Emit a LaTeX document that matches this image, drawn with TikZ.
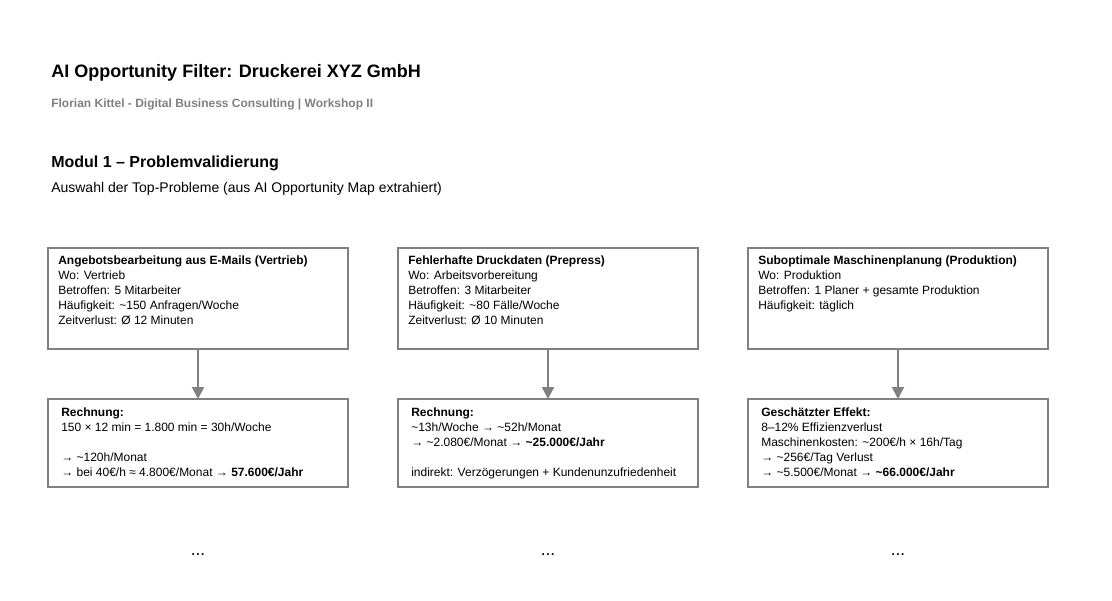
\documentclass[tikz,border=0pt]{standalone}
\usepackage{fontspec}
\setmainfont{Liberation Sans}
\usetikzlibrary{arrows.meta}
\definecolor{bx}{HTML}{808080}
\begin{document}
\begin{tikzpicture}[x=0.75pt,y=-0.75pt,
  box/.style={draw=bx,line width=1.5pt,minimum width=300*0.75pt,anchor=north west,inner sep=0pt},
  txt/.style={anchor=north west,inner sep=0pt,align=left,font=\fontsize{9}{11.25}\selectfont},
  arr/.style={draw=bx,line width=1.5pt,-{Triangle[length=9pt,width=9pt]}}]
\useasboundingbox (0,0) rectangle (1112,600);
\node[anchor=base west,inner sep=0pt,font=\fontsize{13.5}{16}\selectfont\bfseries] (title) at (51,77) {AI Opportunity Filter: Druckerei XYZ GmbH};
\node[anchor=base west,inner sep=0pt,text=bx,font=\fontsize{9}{11}\selectfont\bfseries] (sub) at (51,107) {Florian Kittel - Digital Business Consulting | Workshop II};
\node[anchor=base west,inner sep=0pt,font=\fontsize{12}{14}\selectfont\bfseries] (mod) at (51,167) {Modul 1 – Problemvalidierung};
\node[anchor=base west,inner sep=0pt,font=\fontsize{10.5}{12}\selectfont] (aus) at (51,192) {Auswahl der Top-Probleme (aus AI Opportunity Map extrahiert)};

\foreach \i/\x in {1/48,2/398,3/748}{
  \draw[draw=bx,line width=1.5pt] (\x,248) rectangle (\x+300,349);
  \coordinate (t\i) at (\x+150,349);
  \draw[draw=bx,line width=1.5pt] (\x,399) rectangle (\x+300,487);
  \coordinate (b\i) at (\x+150,399);
  \draw[arr] (t\i) -- (b\i);
  \node[anchor=base,inner sep=0pt,font=\fontsize{13}{14}\selectfont] (dots\i) at (\x+150,555) {...};
}
\node[txt] (p1) at (58,256) {\textbf{Angebotsbearbeitung aus E-Mails (Vertrieb)}\\Wo: Vertrieb\\Betroffen: 5 Mitarbeiter\\Häufigkeit: \textasciitilde150 Anfragen/Woche\\Zeitverlust: Ø 12 Minuten};
\node[txt] (p2) at (408,256) {\textbf{Fehlerhafte Druckdaten (Prepress)}\\Wo: Arbeitsvorbereitung\\Betroffen: 3 Mitarbeiter\\Häufigkeit: \textasciitilde80 Fälle/Woche\\Zeitverlust: Ø 10 Minuten};
\node[txt] (p3) at (758,256) {\textbf{Suboptimale Maschinenplanung (Produktion)}\\Wo: Produktion\\Betroffen: 1 Planer + gesamte Produktion\\Häufigkeit: täglich};
\node[txt] (r1) at (61,408) {\textbf{Rechnung:}\\150 × 12 min = 1.800 min = 30h/Woche\\[11.25pt]→ \textasciitilde120h/Monat\\→ bei 40€/h ≈ 4.800€/Monat → \textbf{57.600€/Jahr}};
\node[txt] (r2) at (411,408) {\textbf{Rechnung:}\\\textasciitilde13h/Woche → \textasciitilde52h/Monat\\→ \textasciitilde2.080€/Monat → \textbf{\textasciitilde25.000€/Jahr}\\[11.25pt]indirekt: Verzögerungen + Kundenunzufriedenheit};
\node[txt] (r3) at (761,408) {\textbf{Geschätzter Effekt:}\\8–12\% Effizienzverlust\\Maschinenkosten: \textasciitilde200€/h × 16h/Tag\\→ \textasciitilde256€/Tag Verlust\\→ \textasciitilde5.500€/Monat → \textbf{\textasciitilde66.000€/Jahr}};
\end{tikzpicture}
\end{document}
